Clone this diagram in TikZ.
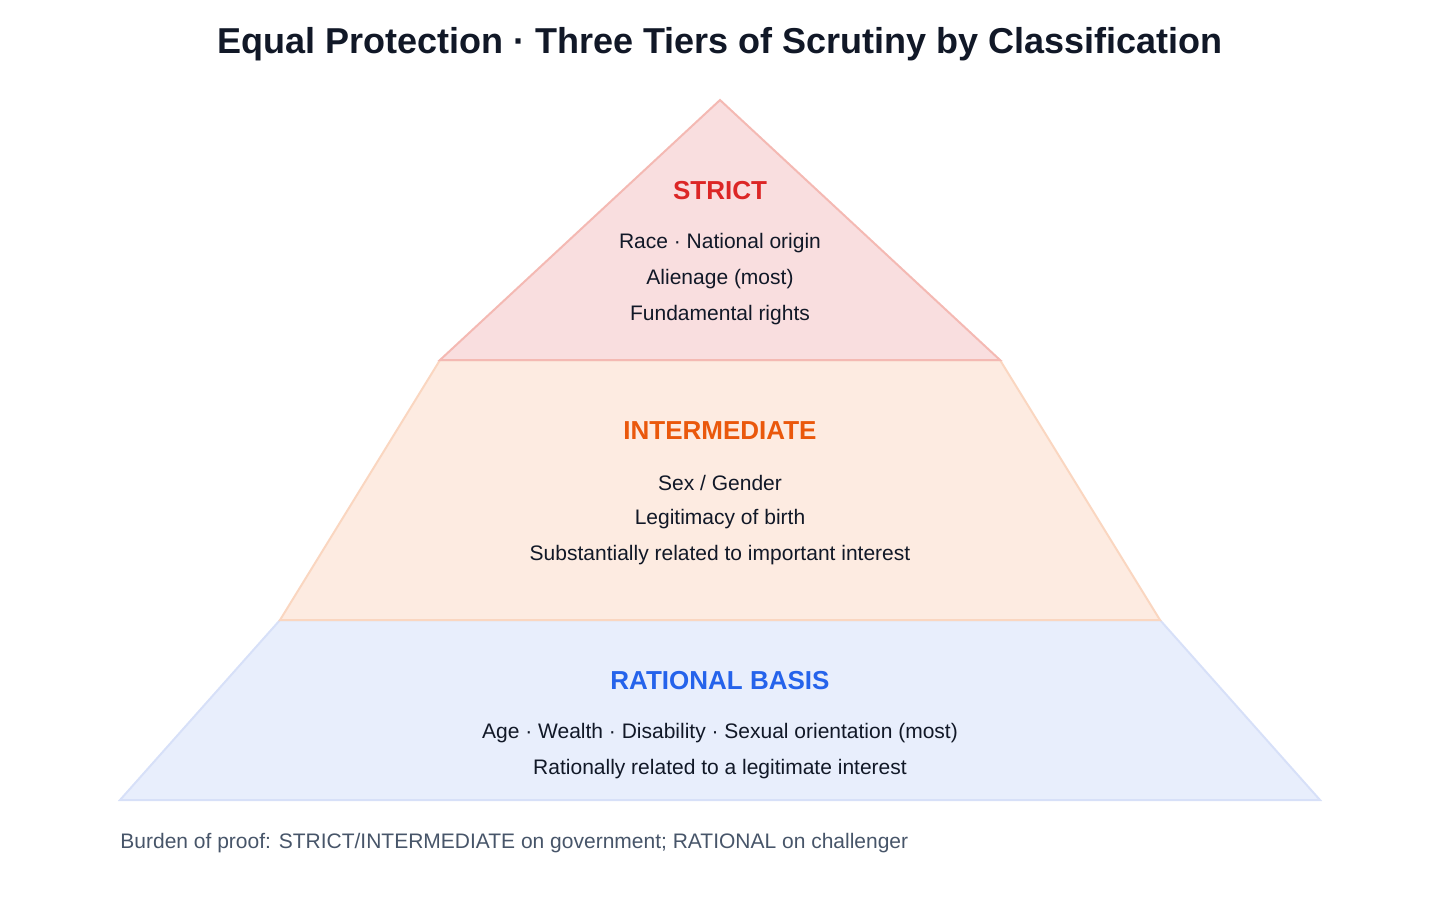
\documentclass[tikz,border=0pt]{standalone}
\usepackage{fontspec}
\setmainfont{Liberation Sans}
\usetikzlibrary{positioning}
\definecolor{inkdark}{HTML}{111827}
\definecolor{inkgray}{HTML}{475569}
\definecolor{strictred}{HTML}{DC2626}
\definecolor{strictfill}{HTML}{F9DEDF}
\definecolor{strictline}{HTML}{F4B9B3}
\definecolor{midorange}{HTML}{EA580C}
\definecolor{midfill}{HTML}{FDEBE1}
\definecolor{midline}{HTML}{FAD6C0}
\definecolor{ratblue}{HTML}{2563EB}
\definecolor{ratfill}{HTML}{E8EEFC}
\definecolor{ratline}{HTML}{D7E0F8}
\tikzset{
  tierhead/.style={font=\fontsize{13}{15}\selectfont\bfseries},
  tiertext/.style={font=\fontsize{10.5}{12}\selectfont, text=inkdark},
}
\begin{document}
\begin{tikzpicture}[x=0.5pt,y=-0.5pt]
\useasboundingbox (0,0) rectangle (1440,900);

\node [font=\fontsize{18}{22}\selectfont\bfseries, text=inkdark] (title) at (720,44) {Equal Protection · Three Tiers of Scrutiny by Classification};

% tiers
\draw [ratline, fill=ratfill, line width=1pt] (280,620) -- (1160,620) -- (1320,800) -- (120,800) -- cycle;
\draw [midline, fill=midfill, line width=1pt] (440,360) -- (1000,360) -- (1160,620) -- (280,620) -- cycle;
\draw [strictline, fill=strictfill, line width=1pt] (720,100) -- (1000,360) -- (440,360) -- cycle;

% strict
\node [tierhead, text=strictred] (strict) at (720,191) {STRICT};
\node [tiertext] (s1) at (720,243) {Race · National origin};
\node [tiertext] (s2) at (720,279) {Alienage (most)};
\node [tiertext] (s3) at (720,315) {Fundamental rights};

% intermediate
\node [tierhead, text=midorange] (mid) at (720,431) {INTERMEDIATE};
\node [tiertext] (m1) at (720,483) {Sex / Gender};
\node [tiertext] (m2) at (720,519) {Legitimacy of birth};
\node [tiertext] (m3) at (720,555) {Substantially related to important interest};

% rational
\node [tierhead, text=ratblue] (rat) at (720,681) {RATIONAL BASIS};
\node [tiertext] (r1) at (720,733) {Age · Wealth · Disability · Sexual orientation (most)};
\node [tiertext] (r2) at (720,769) {Rationally related to a legitimate interest};

\node [anchor=west, font=\fontsize{10.5}{12}\selectfont, text=inkgray, inner sep=0pt] (burden) at (120,843) {Burden of proof: STRICT/INTERMEDIATE on government; RATIONAL on challenger};
\end{tikzpicture}
\end{document}
